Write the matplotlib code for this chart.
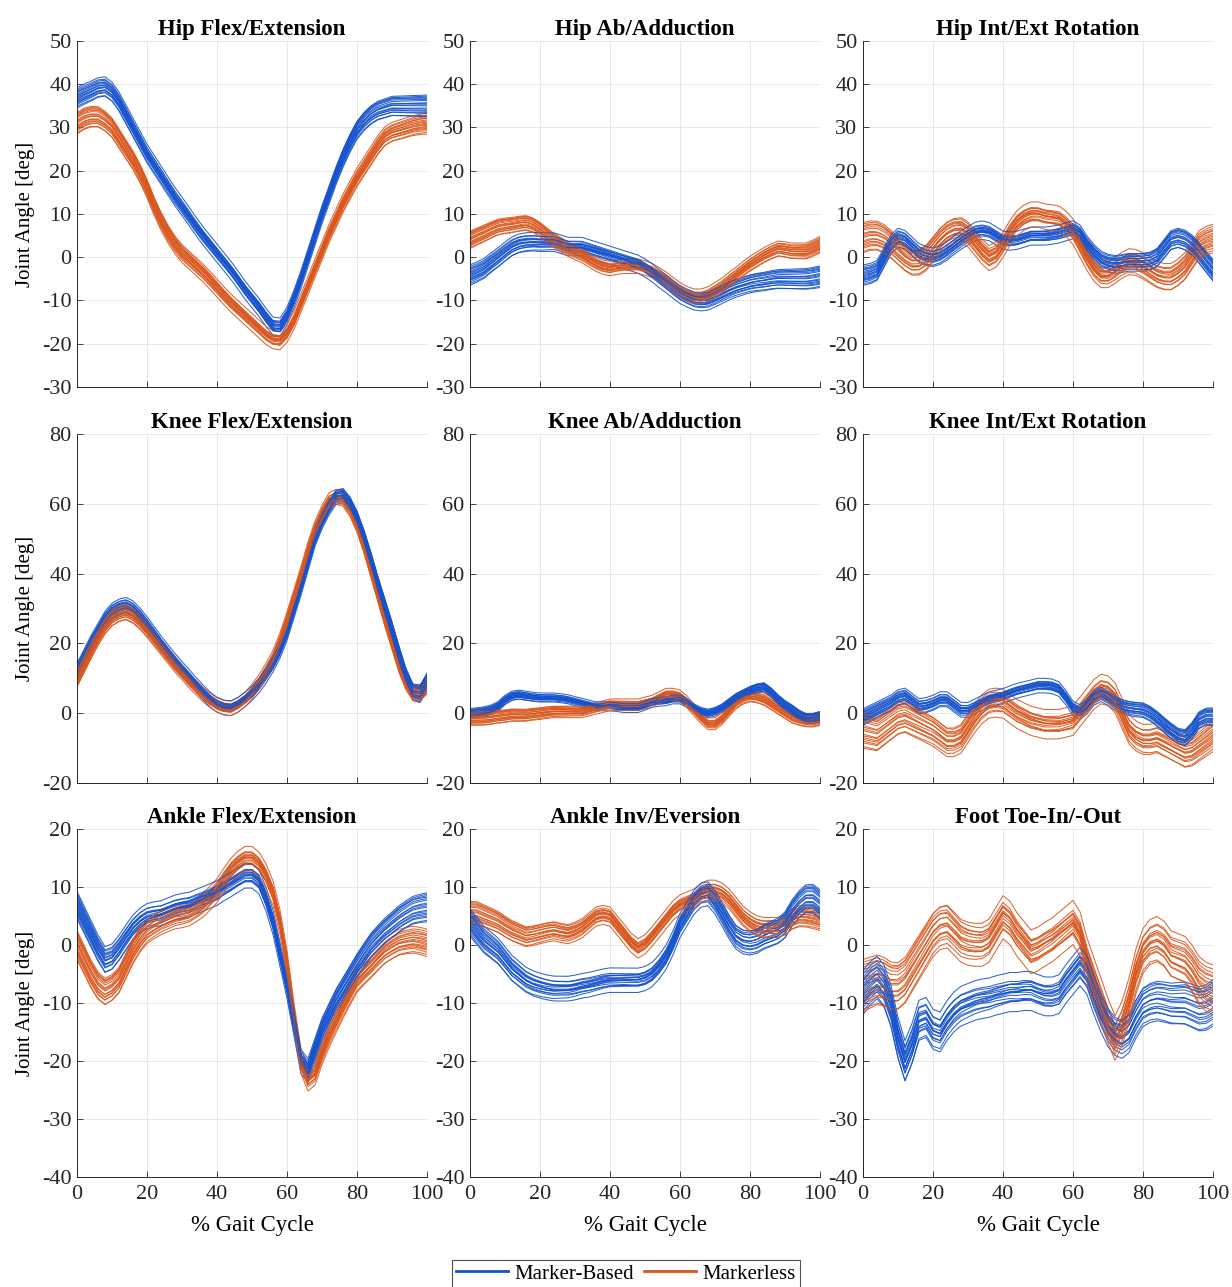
import numpy as np
import matplotlib
matplotlib.use('Agg')
import matplotlib.pyplot as plt
from matplotlib.lines import Line2D

gait = list(range(0, 101, 2))

# mean curves, marker-based (mb) and markerless (ml), in degrees
hip_flex_mb = [37, 37.8, 38.5, 39.3, 39.5, 38.3, 36, 33, 30, 27, 24, 21.5, 19, 16.5, 14, 11.8, 9.5, 7.2, 5, 3, 1,
               -1, -3, -5.2, -7.5, -9.5, -11.5, -13.8, -15.8, -16, -13.5, -9.5, -5, 0, 5, 10, 14.5, 19, 23, 26.5, 29.5,
               31.5, 33, 34, 34.5, 35, 35, 35, 35, 35, 35]
hip_flex_ml = [31, 32, 32.5, 32.5, 31.5, 30, 27.5, 25, 22.5, 19.5, 16, 12, 8.5, 5.5, 3, 1, -0.5, -2, -3.5, -5.2, -7,
               -8.8, -10.5, -12, -13.5, -15, -16.5, -18, -19, -19.2, -17.5, -14.5, -10.5, -6.5, -2.5, 1.5, 5.5, 9, 12.5,
               15.5, 18.5, 21, 23.5, 26, 28, 29, 29.5, 30, 30.5, 30.8, 31]
hip_ab_mb = [-4, -3.3, -2.5, -1.2, 0, 1.3, 2.5, 3.2, 3.5, 3.6, 3.5, 3.5, 3.5, 3, 2.5, 2.5, 2.5, 2, 1.5, 1, 0.5,
             0, -0.5, -1, -1.5, -2.4, -3.5, -4.8, -6, -7.3, -8.5, -9.3, -10, -10.2, -10, -9.3, -8.5, -7.7, -7, -6.5, -6,
             -5.7, -5.5, -5.2, -5, -5, -5, -5, -5, -4.8, -4.5]
hip_ab_ml = [4, 4.8, 5.5, 6.3, 7, 7.3, 7.5, 7.8, 8, 7.5, 6.5, 5.2, 4, 3, 2, 1.2, 0.5, -0.5, -1.5, -2.2, -2.5,
             -2.2, -2, -2, -2, -2.4, -3, -4, -5, -6.3, -7.5, -8.4, -9, -9, -8.5, -7.5, -6.5, -5.2, -4, -2.7, -1.5,
             -0.5, 0.5, 1.3, 2, 1.8, 1.5, 1.5, 1.5, 2.2, 3]
hip_rot_mb = [-4, -3.7, -3, 0, 3, 4.5, 4, 2.5, 1, 0.3, 0, 0.5, 1.5, 2.8, 4, 5, 6, 6.3, 6, 5, 4,
              3.8, 4, 4.5, 5, 5, 5, 5.2, 5.5, 6, 6.5, 5.5, 3, 1, -0.5, -1.2, -1.5, -1.3, -1, -1, -1,
              -0.8, 0, 2, 4, 4.5, 4, 2.8, 1, -1, -3]
hip_rot_ml = [4.5, 5, 5, 4.3, 3, 1.5, 0, -1, -1, 0, 2, 4, 5.5, 6.3, 6.5, 5.5, 3.5, 1.5, 0, 0.8, 3,
              5.8, 8, 9.3, 10, 10, 9.5, 9.3, 9, 7.8, 6, 3, 0, -2.5, -4, -4, -3, -1.8, -1, -1.2, -2,
              -3, -4, -4.5, -4.5, -3.5, -2, 0.5, 3, 4, 4.5]
knee_flex_mb = [12, 16, 20, 23.5, 27, 29.3, 30.5, 31, 30, 28, 25.5, 22.8, 20, 17.5, 15, 12.7, 10.5, 8.2, 6, 4, 2.5,
                1.7, 1.5, 2.5, 4, 5.8, 8, 10.8, 14, 18, 23, 29.5, 36, 43, 50, 55, 59, 62, 62.5, 60, 56,
                50.5, 44, 37, 30.5, 24, 17, 10.5, 6, 5.5, 9]
knee_flex_ml = [10, 14, 18, 21.8, 25, 27.3, 28.5, 29, 28, 26.3, 24, 21.5, 19, 16.5, 14, 11.8, 9.5, 7.5, 5.5, 3.8, 2.5,
                1.7, 1.5, 2.5, 4, 6.3, 9, 12.3, 16, 21, 27, 33.5, 40, 47, 53, 57.5, 61, 62, 61.5, 58.5, 54,
                48, 41, 34, 27, 20.5, 14, 9, 6, 6, 8]
knee_ab_mb = [0, 0.2, 0.5, 1, 2, 3.8, 5, 5.3, 5, 4.7, 4.5, 4.5, 4.5, 4.3, 4, 3.5, 3, 2.5, 2, 2, 2,
              1.8, 1.5, 1.5, 1.5, 2.2, 3, 3.3, 3.5, 4, 4, 3, 1.5, 0.5, 0, 0.5, 1.5, 3, 4.5, 5.5, 6.5,
              7.2, 7.5, 6, 4, 2.3, 1, -0.5, -1.5, -1.5, -1]
knee_ab_ml = [-1.5, -1.5, -1.5, -1.3, -1, -0.8, -0.5, -0.5, -0.5, -0.2, 0, 0.3, 0.5, 0.5, 0.5, 0.5, 0.5, 1, 1.5, 2, 2.5,
              2.5, 2.5, 2.5, 2.5, 3, 3.5, 4.5, 5.5, 5.5, 5, 3.3, 1, -1.2, -3, -3, -1.5, 0.8, 3, 4.3, 5,
              4.7, 4, 2.8, 1.5, 0.3, -1, -1.6, -2, -2, -1.5]
knee_rot_mb = [-1, 0, 1, 2, 3, 4.5, 5, 3.5, 2, 2.3, 3, 4, 4, 2.5, 1, 1, 2, 3, 4, 4.5, 5,
               5.8, 6.5, 7, 7.5, 8, 8, 7.8, 7, 4.5, 1.5, 0.5, 2, 4.5, 5.5, 4.5, 3, 2, 1.5, 1.2, 1,
               0, -1.5, -3.3, -5, -6.5, -7, -5, -2, -1, -1]
knee_rot_ml = [-5, -5.5, -6, -4.5, -3, -1.5, -1, -2, -3, -4, -5, -6.5, -8, -8, -7, -4, -1, 1.5, 3, 3.3, 3,
               1.5, 0, -1, -2, -2.5, -3, -3, -3, -2.5, -2, 0.5, 3, 5.5, 7, 6.5, 4.5, 0, -4.5, -6.5, -7.5,
               -7.5, -7, -8, -9, -10, -11, -10.5, -9, -7.5, -6]
ankle_flex_mb = [7, 4.5, 2, -0.5, -2.5, -2, -0.5, 1.3, 3, 4.2, 5, 5.3, 5.5, 6, 6.5, 6.8, 7, 7.5, 8, 8.5, 9,
                 9.8, 10.5, 11.3, 12, 12, 11, 8, 4, -1.5, -7, -13.5, -20, -21.5, -18, -14.5, -12, -9.5, -7.5, -5.5, -3.5,
                 -1.7, 0, 1.3, 2.5, 3.5, 4.5, 5.3, 6, 6.3, 6.5]
ankle_flex_ml = [0, -2.5, -5, -7, -8, -7.3, -6, -3.5, -1, 1, 2.5, 3.3, 4, 4.5, 5, 5.2, 5.5, 6.2, 7, 8.2, 9.5,
                 11.3, 13, 14.2, 15, 15, 14, 12, 9, 4, -3, -12, -20, -23, -22, -18.5, -15.5, -13, -10.5, -8.2, -6,
                 -4.7, -3.5, -2.2, -1, -0.2, 0.5, 0.8, 1, 0.8, 0.5]
ankle_inv_mb = [4, 2.5, 1, 0, -1, -2.5, -4, -5, -6, -6.6, -7, -7.3, -7.5, -7.5, -7.5, -7.3, -7, -6.8, -6.5, -6.2, -6,
                -6, -6, -6, -6, -5.7, -5, -3.7, -2, 0.5, 3.5, 5.5, 7.5, 8.7, 9, 7.5, 5.5, 3.3, 1.5, 0.7, 0.5,
                0.8, 1.5, 2, 2.5, 3.5, 5.5, 7, 8, 8, 7]
ankle_inv_ml = [5.5, 5.5, 5, 4.5, 4, 3.2, 2.5, 2, 1.5, 1.7, 2, 2.3, 2.5, 2.2, 2, 2.4, 3, 4, 5, 5.3, 5,
                3.5, 2, 0.5, -0.5, 0.2, 1.5, 3, 4.5, 6, 7, 7.5, 8, 9, 9.5, 9.5, 9, 8, 6.5, 5, 4,
                3.3, 3, 3, 3, 3.5, 4.5, 5, 5, 4.8, 4.5]
foot_mb = [-8, -6.5, -5.5, -7, -10.5, -16, -20, -17, -13, -12.5, -14.5, -15, -13, -11.5, -10.5, -10, -9.5, -9.2, -9, -8.6, -8.3,
           -8, -8, -7.8, -7.8, -8.3, -8.7, -8.7, -8.3, -6.5, -5, -3.5, -5, -8.5, -11.5, -14, -15.5, -16, -15, -12.5, -10.5,
           -9.8, -9.5, -9.7, -10, -10, -10, -10.5, -11, -10.8, -10]
foot_ml = [-7, -6.5, -6, -6.3, -7, -7, -6, -4, -2, 0, 2, 3.2, 3.5, 2.3, 1, 0.5, 0.3, 0.3, 1, 3, 5,
           4, 2, 0.5, -1, -0.5, 0.3, 1, 2, 3, 4, 2, -2.5, -6, -9.5, -13, -16, -13.5, -9.5, -4.5, -1,
           0.5, 1, 0.2, -1.5, -2, -2.5, -4, -6, -7, -7.5]

# half width of each bundle of trials
spread_mb = [2.5, 2.5, 2.5, 2.5, 1.5, 2.5, 2.5, 2.5, 4.0]
spread_ml = [2.5, 2.0, 3.5, 2.5, 2.0, 5.0, 2.5, 2.0, 4.5]

# where each trial sits in the bundle at the start and end of the cycle
trial_w0 = [-1.0, -0.85, -0.7, -0.55, -0.4, -0.3, -0.2, -0.1, 0.0, 0.1, 0.2, 0.3, 0.45, 0.6, 0.75, 0.9, -0.5, 0.5]
trial_w1 = [0.3, -0.9, 0.8, -0.2, 0.5, -0.6, 1.0, 0.1, -0.4, 0.6, -1.0, 0.0, -0.7, 0.2, -0.3, 0.7, 0.9, -0.5]

titles = ['Hip Flex/Extension', 'Hip Ab/Adduction', 'Hip Int/Ext Rotation',
          'Knee Flex/Extension', 'Knee Ab/Adduction', 'Knee Int/Ext Rotation',
          'Ankle Flex/Extension', 'Ankle Inv/Eversion', 'Foot Toe-In/-Out']
curves_mb = [hip_flex_mb, hip_ab_mb, hip_rot_mb, knee_flex_mb, knee_ab_mb, knee_rot_mb, ankle_flex_mb, ankle_inv_mb, foot_mb]
curves_ml = [hip_flex_ml, hip_ab_ml, hip_rot_ml, knee_flex_ml, knee_ab_ml, knee_rot_ml, ankle_flex_ml, ankle_inv_ml, foot_ml]
row_ylim = [(-30, 50, 10), (-20, 80, 20), (-40, 20, 10)]

blue = '#1552cc'
orange = '#d9561c'

plt.rcParams['font.family'] = ['Liberation Serif', 'DejaVu Serif']
plt.rcParams['axes.unicode_minus'] = False

fig = plt.figure(figsize=(12.32, 12.87), dpi=100)

lefts = [77, 470, 863]
row_px = [(41, 387), (434, 783), (829, 1177)]

x = np.array(gait, dtype=float)
t = x / 100.0

for i in range(9):
    r, c = divmod(i, 3)
    top, bot = row_px[r]
    ax = fig.add_axes([lefts[c] / 1232, 1 - bot / 1287, 350 / 1232, (bot - top) / 1287])
    mb = np.array(curves_mb[i], dtype=float)
    ml = np.array(curves_ml[i], dtype=float)
    for k in range(len(trial_w0)):
        w = trial_w0[k] * (1 - t) + trial_w1[k] * t
        w2 = trial_w1[-1 - k] * (1 - t) + trial_w0[-1 - k] * t
        ax.plot(x, ml + spread_ml[i] * w2, color=orange, lw=0.75, alpha=0.9)
        ax.plot(x, mb + spread_mb[i] * w, color=blue, lw=0.75, alpha=0.9)

    lo, hi, step = row_ylim[r]
    ax.set_xlim(0, 100)
    ax.set_ylim(lo, hi)
    ax.set_xticks(range(0, 101, 20))
    ax.set_yticks(range(lo, hi + 1, step))
    ax.grid(True, color='#e3e3e3', lw=0.6)
    ax.set_axisbelow(True)
    for s in ['top', 'right']:
        ax.spines[s].set_visible(False)
    for s in ['left', 'bottom']:
        ax.spines[s].set_color('#262626')
        ax.spines[s].set_linewidth(0.7)
    ax.tick_params(direction='in', length=4, width=0.6, colors='#262626', labelsize=16)
    ax.tick_params(axis='x', pad=6)
    ax.tick_params(axis='y', pad=4)
    ax.set_title(titles[i], fontweight='bold', fontsize=16.5, pad=4)
    if r < 2:
        ax.set_xticklabels([])
    else:
        ax.set_xlabel('% Gait Cycle', fontsize=16.5, labelpad=8)
    if c == 0:
        ax.set_ylabel('Joint Angle [deg]', fontsize=15, labelpad=5)

handles = [Line2D([0], [0], color=blue, lw=2), Line2D([0], [0], color=orange, lw=2)]
leg = fig.legend(handles, ['Marker-Based', 'Markerless'], loc='upper center',
                 bbox_to_anchor=(626 / 1232, 1 - 1260 / 1287), ncol=2, fontsize=15,
                 frameon=True, fancybox=False, edgecolor='#262626', handlelength=2.5,
                 columnspacing=0.5, handletextpad=0.3, borderpad=0.2, borderaxespad=0)
leg.get_frame().set_linewidth(0.8)

fig.savefig('out.png', dpi=100)
